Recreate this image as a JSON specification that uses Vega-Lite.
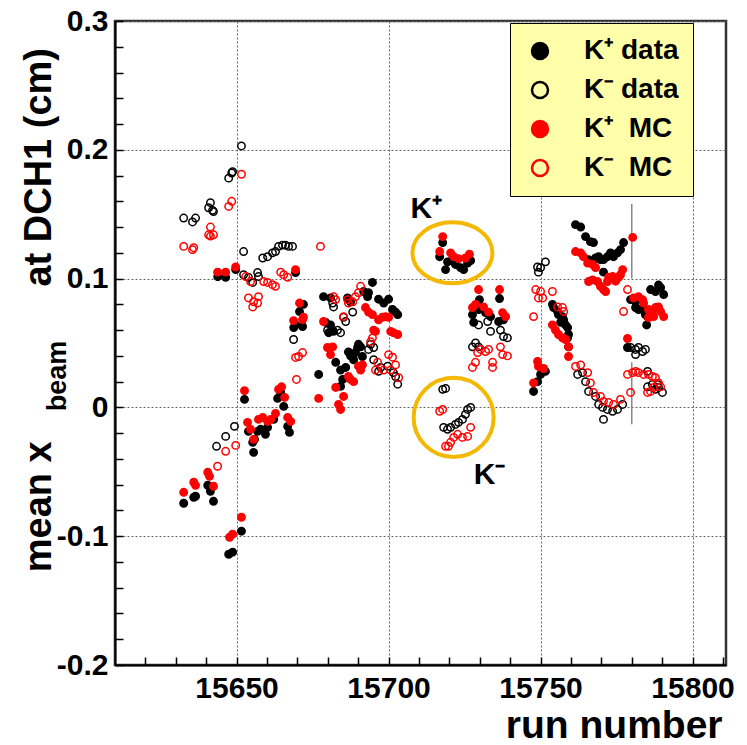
{
"$schema": "https://vega.github.io/schema/vega-lite/v6.json",
"width": 611, "height": 644,
"autosize": {"type": "none"},
"padding": {"left": 115, "top": 21, "right": 21, "bottom": 80},
"background": "white",
"config": {"view": {"stroke": "#333", "strokeWidth": 2.5}, "font": "Liberation Sans"},
"encoding": {
  "x": {"field": "r", "type": "quantitative", "scale": {"domain": [15610, 15811], "nice": false, "zero": false},
    "axis": {"values": [15620,15630,15640,15650,15660,15670,15680,15690,15700,15710,15720,15730,15740,15750,15760,15770,15780,15790,15800,15810],
      "format": "d", "labelExpr": "datum.value % 50 === 0 ? datum.label : ''",
      "labelFontSize": 30, "labelFontWeight": "bold", "labelColor": "black", "labelPadding": 16, "labelOverlap": false, "labelFlush": false,
      "tickSize": -8, "tickColor": "black", "tickWidth": 1.5, "domainColor": "black", "domainWidth": 2,
      "grid": true, "gridColor": "#666", "gridDash": [2, 2], "gridWidth": 1,
      "gridOpacity": {"condition": {"test": "datum.value % 50 === 0", "value": 1}, "value": 0},
      "title": "run number", "titleFontSize": 39, "titleFontWeight": "bold", "titleColor": "black",
      "titleAlign": "right", "titleAnchor": "end", "titleX": 607, "titleY": 72, "titleBaseline": "alphabetic"}},
  "y": {"field": "v", "type": "quantitative", "scale": {"domain": [-0.2, 0.3], "nice": false, "zero": false},
    "axis": {"values": [-0.2,-0.18,-0.16,-0.14,-0.12,-0.1,-0.08,-0.06,-0.04,-0.02,0,0.02,0.04,0.06,0.08,0.1,0.12,0.14,0.16,0.18,0.2,0.22,0.24,0.26,0.28,0.3],
      "labelExpr": "abs(datum.value*10 - round(datum.value*10)) < 0.001 ? (abs(datum.value) < 0.001 ? '0' : (datum.value < 0 ? '-' : '') + format(abs(datum.value), '.1f')) : ''",
      "labelFontSize": 30, "labelFontWeight": "bold", "labelColor": "black", "labelPadding": 15, "labelOverlap": false, "labelFlush": false,
      "tickSize": -8, "tickColor": "black", "tickWidth": 1.5, "domainColor": "black", "domainWidth": 2,
      "grid": true, "gridColor": "#666", "gridDash": [2, 2], "gridWidth": 1,
      "gridOpacity": {"condition": {"test": "abs(datum.value*10 - round(datum.value*10)) < 0.001", "value": 1}, "value": 0},
      "title": null}}
},
"layer": [
  {"data": {"values": [{"r": 15780, "v": 0.158, "v2": 0.100}, {"r": 15780, "v": 0.035, "v2": -0.013}]},
   "mark": {"type": "rule", "color": "#888", "strokeWidth": 1.5},
   "encoding": {"y2": {"field": "v2"}}},
  {"data": {"values": [
{"r":15643.8,"v":0.1015,"s":"A"},{"r":15646.4,"v":0.101,"s":"A"},{"r":15649.7,"v":0.107,"s":"A"},{"r":15669.4,"v":0.1047,"s":"A"},
{"r":15670.7,"v":0.0744,"s":"A"},{"r":15669.4,"v":0.064,"s":"A"},{"r":15671.7,"v":0.0628,"s":"A"},{"r":15668.8,"v":0.062,"s":"A"},
{"r":15677,"v":0.0256,"s":"A"},{"r":15652.6,"v":0.0062,"s":"A"},{"r":15663.5,"v":0.007,"s":"A"},{"r":15664.5,"v":0.0116,"s":"A"},
{"r":15665.5,"v":0.0008,"s":"A"},{"r":15666.8,"v":-0.0147,"s":"A"},{"r":15667.4,"v":-0.0194,"s":"A"},{"r":15662.2,"v":-0.0093,"s":"A"},
{"r":15660.2,"v":-0.0155,"s":"A"},{"r":15657.9,"v":-0.017,"s":"A"},{"r":15656.9,"v":-0.0186,"s":"A"},{"r":15653.9,"v":-0.0186,"s":"A"},
{"r":15655.9,"v":-0.0248,"s":"A"},{"r":15655.3,"v":-0.0271,"s":"A"},{"r":15659.5,"v":-0.0209,"s":"A"},{"r":15655.6,"v":-0.0349,"s":"A"},
{"r":15640.5,"v":-0.0605,"s":"A"},{"r":15641.4,"v":-0.0651,"s":"A"},{"r":15642.4,"v":-0.0729,"s":"A"},{"r":15635.9,"v":-0.0698,"s":"A"},
{"r":15636.5,"v":-0.069,"s":"A"},{"r":15632.6,"v":-0.0744,"s":"A"},{"r":15651.6,"v":-0.0961,"s":"A"},{"r":15647.4,"v":-0.114,"s":"A"},
{"r":15648.7,"v":-0.1124,"s":"A"},
{"r":15694.7,"v":0.097,"s":"A"},{"r":15678.6,"v":0.086,"s":"A"},{"r":15680.9,"v":0.085,"s":"A"},{"r":15691.8,"v":0.09,"s":"A"},
{"r":15693.1,"v":0.086,"s":"A"},{"r":15693.4,"v":0.089,"s":"A"},{"r":15686.5,"v":0.085,"s":"A"},{"r":15687.5,"v":0.082,"s":"A"},
{"r":15696.7,"v":0.084,"s":"A"},{"r":15698.4,"v":0.081,"s":"A"},{"r":15700,"v":0.084,"s":"A"},{"r":15701.3,"v":0.076,"s":"A"},
{"r":15702.3,"v":0.074,"s":"A"},{"r":15703,"v":0.072,"s":"A"},{"r":15672,"v":0.080,"s":"A"},{"r":15679.3,"v":0.066,"s":"A"},
{"r":15680.9,"v":0.064,"s":"A"},{"r":15681.9,"v":0.059,"s":"A"},{"r":15680.3,"v":0.058,"s":"A"},{"r":15690.1,"v":0.049,"s":"A"},
{"r":15690.8,"v":0.047,"s":"A"},{"r":15689.8,"v":0.0465,"s":"A"},{"r":15686.8,"v":0.043,"s":"A"},{"r":15687.5,"v":0.04,"s":"A"},
{"r":15688.5,"v":0.037,"s":"A"},{"r":15682.6,"v":0.035,"s":"A"},{"r":15684.2,"v":0.029,"s":"A"},{"r":15685.9,"v":0.031,"s":"A"},
{"r":15684.9,"v":0.0217,"s":"A"},{"r":15684.2,"v":0.0163,"s":"A"},{"r":15689.1,"v":0.0426,"s":"A"},{"r":15691.4,"v":0.0395,"s":"A"},
{"r":15717.8,"v":0.128,"s":"A"},{"r":15716.8,"v":0.117,"s":"A"},{"r":15719.4,"v":0.113,"s":"A"},{"r":15721,"v":0.1147,"s":"A"},
{"r":15718.75,"v":0.107,"s":"A"},{"r":15722,"v":0.111,"s":"A"},{"r":15723.7,"v":0.1085,"s":"A"},{"r":15724.7,"v":0.107,"s":"A"},
{"r":15726,"v":0.112,"s":"A"},{"r":15727,"v":0.114,"s":"A"},{"r":15729.9,"v":0.0837,"s":"A"},{"r":15736.5,"v":0.0845,"s":"A"},
{"r":15727.6,"v":0.072,"s":"A"},{"r":15729.6,"v":0.076,"s":"A"},{"r":15731.9,"v":0.0736,"s":"A"},{"r":15733.55,"v":0.0705,"s":"A"},
{"r":15728,"v":0.066,"s":"A"},{"r":15736.2,"v":0.0667,"s":"A"},{"r":15737.8,"v":0.068,"s":"A"},
{"r":15761.5,"v":0.1419,"s":"A"},{"r":15763.2,"v":0.140,"s":"A"},{"r":15764.8,"v":0.1326,"s":"A"},{"r":15766.4,"v":0.1287,"s":"A"},
{"r":15767.4,"v":0.128,"s":"A"},{"r":15765.8,"v":0.1147,"s":"A"},{"r":15767.1,"v":0.113,"s":"A"},{"r":15768.1,"v":0.116,"s":"A"},
{"r":15769.1,"v":0.117,"s":"A"},{"r":15769.7,"v":0.1147,"s":"A"},{"r":15770.7,"v":0.1147,"s":"A"},{"r":15772,"v":0.117,"s":"A"},
{"r":15773,"v":0.12,"s":"A"},{"r":15774,"v":0.117,"s":"A"},{"r":15775.3,"v":0.12,"s":"A"},{"r":15776.3,"v":0.1225,"s":"A"},
{"r":15777.3,"v":0.128,"s":"A"},{"r":15770.7,"v":0.105,"s":"A"},{"r":15786.2,"v":0.0915,"s":"A"},{"r":15787.8,"v":0.09,"s":"A"},
{"r":15788.8,"v":0.095,"s":"A"},{"r":15789.5,"v":0.093,"s":"A"},{"r":15790.5,"v":0.0876,"s":"A"},{"r":15779.6,"v":0.0837,"s":"A"},
{"r":15781.25,"v":0.082,"s":"A"},{"r":15781.25,"v":0.0775,"s":"A"},{"r":15782.2,"v":0.076,"s":"A"},{"r":15783.55,"v":0.076,"s":"A"},
{"r":15784.5,"v":0.072,"s":"A"},{"r":15785.2,"v":0.0705,"s":"A"},{"r":15784.9,"v":0.064,"s":"A"},{"r":15778.6,"v":0.0465,"s":"A"},
{"r":15753.9,"v":0.08,"s":"A"},{"r":15754.3,"v":0.0775,"s":"A"},{"r":15755.6,"v":0.0744,"s":"A"},{"r":15755.9,"v":0.072,"s":"A"},
{"r":15757.2,"v":0.0705,"s":"A"},{"r":15757.6,"v":0.068,"s":"A"},{"r":15756.6,"v":0.066,"s":"A"},{"r":15758.2,"v":0.064,"s":"A"},
{"r":15758.9,"v":0.062,"s":"A"},{"r":15759.2,"v":0.0566,"s":"A"},{"r":15751.6,"v":0.028,"s":"A"},{"r":15750,"v":0.0256,"s":"A"},
{"r":15749,"v":0.02,"s":"A"},{"r":15747.7,"v":0.0124,"s":"A"},
{"r":15651.6,"v":0.203,"s":"B"},{"r":15648.4,"v":0.182,"s":"B"},{"r":15647.4,"v":0.178,"s":"B"},{"r":15648.7,"v":0.183,"s":"B"},
{"r":15641.4,"v":0.159,"s":"B"},{"r":15642.1,"v":0.153,"s":"B"},{"r":15640.8,"v":0.155,"s":"B"},{"r":15642.4,"v":0.152,"s":"B"},
{"r":15632.6,"v":0.147,"s":"B"},{"r":15635.5,"v":0.144,"s":"B"},{"r":15636.5,"v":0.147,"s":"B"},{"r":15652.3,"v":0.121,"s":"B"},
{"r":15658.6,"v":0.116,"s":"B"},{"r":15660.2,"v":0.117,"s":"B"},{"r":15661.8,"v":0.120,"s":"B"},{"r":15662.8,"v":0.121,"s":"B"},
{"r":15663.8,"v":0.125,"s":"B"},{"r":15665.1,"v":0.126,"s":"B"},{"r":15666.1,"v":0.126,"s":"B"},{"r":15667.1,"v":0.125,"s":"B"},
{"r":15668.4,"v":0.125,"s":"B"},{"r":15652.3,"v":0.103,"s":"B"},{"r":15653.9,"v":0.101,"s":"B"},{"r":15655.3,"v":0.097,"s":"B"},
{"r":15656.9,"v":0.1047,"s":"B"},{"r":15657.2,"v":0.1016,"s":"B"},{"r":15668.75,"v":0.0527,"s":"B"},{"r":15649.3,"v":-0.0147,"s":"B"},
{"r":15646.4,"v":-0.0225,"s":"B"},{"r":15643.4,"v":-0.0302,"s":"B"},
{"r":15681.6,"v":0.081,"s":"B"},{"r":15681.9,"v":0.078,"s":"B"},{"r":15688.2,"v":0.074,"s":"B"},{"r":15679.9,"v":0.06,"s":"B"},
{"r":15683.2,"v":0.06,"s":"B"},{"r":15684.2,"v":0.058,"s":"B"},{"r":15685.2,"v":0.07,"s":"B"},{"r":15685.9,"v":0.0667,"s":"B"},
{"r":15694.1,"v":0.049,"s":"B"},{"r":15695.1,"v":0.0465,"s":"B"},{"r":15693.4,"v":0.045,"s":"B"},{"r":15695.1,"v":0.037,"s":"B"},
{"r":15697.4,"v":0.031,"s":"B"},{"r":15696.7,"v":0.028,"s":"B"},{"r":15699.7,"v":0.032,"s":"B"},{"r":15701.6,"v":0.027,"s":"B"},
{"r":15703,"v":0.018,"s":"B"},{"r":15702.3,"v":0.024,"s":"B"},
{"r":15729.6,"v":0.064,"s":"B"},{"r":15732.6,"v":0.0667,"s":"B"},{"r":15733.55,"v":0.059,"s":"B"},{"r":15736.8,"v":0.06,"s":"B"},
{"r":15739.1,"v":0.054,"s":"B"},{"r":15737.8,"v":0.055,"s":"B"},{"r":15728.6,"v":0.05,"s":"B"},{"r":15727.6,"v":0.047,"s":"B"},
{"r":15729.6,"v":0.047,"s":"B"},{"r":15717.8,"v":0.014,"s":"B"},{"r":15718.75,"v":0.0147,"s":"B"},{"r":15726,"v":-0.0016,"s":"B"},
{"r":15727,"v":0,"s":"B"},{"r":15725.3,"v":-0.0054,"s":"B"},{"r":15724.3,"v":-0.0093,"s":"B"},{"r":15723,"v":-0.0116,"s":"B"},
{"r":15722,"v":-0.0132,"s":"B"},{"r":15720.4,"v":-0.0155,"s":"B"},{"r":15719.4,"v":-0.017,"s":"B"},{"r":15718.1,"v":-0.0155,"s":"B"},
{"r":15749,"v":0.109,"s":"B"},{"r":15750,"v":0.1085,"s":"B"},{"r":15751.6,"v":0.113,"s":"B"},{"r":15749.3,"v":0.105,"s":"B"},
{"r":15758.9,"v":0.054,"s":"B"},{"r":15759.2,"v":0.047,"s":"B"},{"r":15779.6,"v":0.0465,"s":"B"},{"r":15781.25,"v":0.045,"s":"B"},
{"r":15782.2,"v":0.0465,"s":"B"},{"r":15783.55,"v":0.0434,"s":"B"},{"r":15784.5,"v":0.045,"s":"B"},{"r":15781.25,"v":0.041,"s":"B"},
{"r":15785.2,"v":0.016,"s":"B"},{"r":15786.8,"v":0.0178,"s":"B"},{"r":15787.8,"v":0.014,"s":"B"},{"r":15788.8,"v":0.0155,"s":"B"},
{"r":15790.1,"v":0.0116,"s":"B"},{"r":15788.5,"v":0.0178,"s":"B"},{"r":15785.2,"v":0.028,"s":"B"},{"r":15762.2,"v":0.0256,"s":"B"},
{"r":15763.8,"v":0.027,"s":"B"},{"r":15764.8,"v":0.02,"s":"B"},{"r":15765.8,"v":0.0124,"s":"B"},{"r":15768.1,"v":0.0085,"s":"B"},
{"r":15769.1,"v":0.0023,"s":"B"},{"r":15770.4,"v":0,"s":"B"},{"r":15772,"v":-0.0016,"s":"B"},{"r":15773.7,"v":-0.003,"s":"B"},
{"r":15775.3,"v":-0.0016,"s":"B"},{"r":15777,"v":0.0023,"s":"B"},{"r":15770.7,"v":-0.0093,"s":"B"},
{"r":15643.75,"v":0.105,"s":"C"},{"r":15646.4,"v":0.105,"s":"C"},{"r":15649.7,"v":0.109,"s":"C"},{"r":15669.4,"v":0.107,"s":"C"},
{"r":15670.7,"v":0.081,"s":"C"},{"r":15668.75,"v":0.0674,"s":"C"},{"r":15672,"v":0.070,"s":"C"},{"r":15671.7,"v":0.0682,"s":"C"},
{"r":15677,"v":0.007,"s":"C"},{"r":15652.6,"v":0.013,"s":"C"},{"r":15663.8,"v":0.014,"s":"C"},{"r":15664.8,"v":0.016,"s":"C"},
{"r":15665.8,"v":0.0078,"s":"C"},{"r":15666.8,"v":-0.0078,"s":"C"},{"r":15667.8,"v":-0.0109,"s":"C"},{"r":15662.8,"v":-0.0047,"s":"C"},
{"r":15661.2,"v":-0.0093,"s":"C"},{"r":15660.2,"v":-0.0109,"s":"C"},{"r":15658.6,"v":-0.0078,"s":"C"},{"r":15657.2,"v":-0.0093,"s":"C"},
{"r":15653.6,"v":-0.0116,"s":"C"},{"r":15654.6,"v":-0.017,"s":"C"},{"r":15655.6,"v":-0.0248,"s":"C"},{"r":15640.5,"v":-0.0504,"s":"C"},
{"r":15641.1,"v":-0.0535,"s":"C"},{"r":15642.4,"v":-0.0612,"s":"C"},{"r":15635.9,"v":-0.0581,"s":"C"},{"r":15636.5,"v":-0.0605,"s":"C"},
{"r":15632.6,"v":-0.0659,"s":"C"},{"r":15651.6,"v":-0.0853,"s":"C"},{"r":15647.7,"v":-0.1008,"s":"C"},{"r":15648.7,"v":-0.0984,"s":"C"},
{"r":15692.4,"v":0.0775,"s":"C"},{"r":15693.4,"v":0.074,"s":"C"},{"r":15694.7,"v":0.072,"s":"C"},{"r":15696.7,"v":0.068,"s":"C"},
{"r":15698,"v":0.07,"s":"C"},{"r":15699,"v":0.0705,"s":"C"},{"r":15700,"v":0.07,"s":"C"},{"r":15695.7,"v":0.059,"s":"C"},
{"r":15695.1,"v":0.060,"s":"C"},{"r":15700.7,"v":0.059,"s":"C"},{"r":15701.6,"v":0.058,"s":"C"},{"r":15703,"v":0.0566,"s":"C"},
{"r":15678.6,"v":0.0667,"s":"C"},{"r":15679.9,"v":0.0465,"s":"C"},{"r":15681.6,"v":0.047,"s":"C"},{"r":15680.9,"v":0.041,"s":"C"},
{"r":15690.1,"v":0.032,"s":"C"},{"r":15690.8,"v":0.029,"s":"C"},{"r":15691.4,"v":0.033,"s":"C"},{"r":15686.8,"v":0.024,"s":"C"},
{"r":15687.5,"v":0.0217,"s":"C"},{"r":15688.5,"v":0.02,"s":"C"},{"r":15682.6,"v":0.0155,"s":"C"},{"r":15685.2,"v":0.0085,"s":"C"},
{"r":15683.55,"v":0.0023,"s":"C"},{"r":15684.2,"v":-0.0016,"s":"C"},
{"r":15717.8,"v":0.1326,"s":"C"},{"r":15716.8,"v":0.121,"s":"C"},{"r":15720.4,"v":0.12,"s":"C"},{"r":15721.4,"v":0.117,"s":"C"},
{"r":15723,"v":0.1155,"s":"C"},{"r":15725.3,"v":0.116,"s":"C"},{"r":15726.6,"v":0.119,"s":"C"},{"r":15729.6,"v":0.0915,"s":"C"},
{"r":15736.5,"v":0.0915,"s":"C"},{"r":15727.6,"v":0.0775,"s":"C"},{"r":15728.6,"v":0.08,"s":"C"},{"r":15731.25,"v":0.078,"s":"C"},
{"r":15732.9,"v":0.074,"s":"C"},{"r":15737.5,"v":0.0736,"s":"C"},{"r":15738.5,"v":0.0705,"s":"C"},
{"r":15761.5,"v":0.121,"s":"C"},{"r":15763.2,"v":0.12,"s":"C"},{"r":15764.1,"v":0.117,"s":"C"},{"r":15765.5,"v":0.112,"s":"C"},
{"r":15767.1,"v":0.111,"s":"C"},{"r":15768.1,"v":0.1085,"s":"C"},{"r":15780.3,"v":0.132,"s":"C"},{"r":15777,"v":0.107,"s":"C"},
{"r":15776.3,"v":0.103,"s":"C"},{"r":15775.7,"v":0.101,"s":"C"},{"r":15774.7,"v":0.098,"s":"C"},{"r":15773.7,"v":0.1016,"s":"C"},
{"r":15772.4,"v":0.101,"s":"C"},{"r":15772,"v":0.0977,"s":"C"},{"r":15765.8,"v":0.0977,"s":"C"},{"r":15767.1,"v":0.099,"s":"C"},
{"r":15768.75,"v":0.0977,"s":"C"},{"r":15769.7,"v":0.094,"s":"C"},{"r":15770.7,"v":0.0915,"s":"C"},{"r":15771.4,"v":0.09,"s":"C"},
{"r":15780.6,"v":0.085,"s":"C"},{"r":15782.2,"v":0.086,"s":"C"},{"r":15783.55,"v":0.0837,"s":"C"},{"r":15783.9,"v":0.081,"s":"C"},
{"r":15785.5,"v":0.076,"s":"C"},{"r":15786.8,"v":0.0744,"s":"C"},{"r":15787.8,"v":0.0775,"s":"C"},{"r":15788.8,"v":0.078,"s":"C"},
{"r":15789.5,"v":0.0744,"s":"C"},{"r":15790.5,"v":0.0705,"s":"C"},{"r":15787.2,"v":0.0705,"s":"C"},{"r":15785.5,"v":0.0698,"s":"C"},
{"r":15778.6,"v":0.0535,"s":"C"},{"r":15753.9,"v":0.064,"s":"C"},{"r":15754.9,"v":0.06,"s":"C"},{"r":15755.9,"v":0.0566,"s":"C"},
{"r":15757.2,"v":0.054,"s":"C"},{"r":15758.2,"v":0.0527,"s":"C"},{"r":15759.2,"v":0.047,"s":"C"},{"r":15759.2,"v":0.0395,"s":"C"},
{"r":15749,"v":0.0357,"s":"C"},{"r":15749.3,"v":0.0318,"s":"C"},{"r":15751,"v":0.0302,"s":"C"},{"r":15747.7,"v":0.019,"s":"C"},
{"r":15651.6,"v":0.181,"s":"D"},{"r":15648.4,"v":0.160,"s":"D"},{"r":15647.4,"v":0.156,"s":"D"},{"r":15641.4,"v":0.140,"s":"D"},
{"r":15640.8,"v":0.134,"s":"D"},{"r":15642.4,"v":0.134,"s":"D"},{"r":15641.4,"v":0.133,"s":"D"},{"r":15632.6,"v":0.125,"s":"D"},
{"r":15635.5,"v":0.1225,"s":"D"},{"r":15635.9,"v":0.124,"s":"D"},{"r":15677.6,"v":0.125,"s":"D"},{"r":15653,"v":0.1016,"s":"D"},
{"r":15654.6,"v":0.0977,"s":"D"},{"r":15658.9,"v":0.0977,"s":"D"},{"r":15660.2,"v":0.097,"s":"D"},{"r":15661.8,"v":0.0953,"s":"D"},
{"r":15662.8,"v":0.094,"s":"D"},{"r":15664.5,"v":0.105,"s":"D"},{"r":15665.5,"v":0.103,"s":"D"},{"r":15666.8,"v":0.101,"s":"D"},
{"r":15653.9,"v":0.085,"s":"D"},{"r":15655.6,"v":0.082,"s":"D"},{"r":15655.3,"v":0.078,"s":"D"},{"r":15656.9,"v":0.081,"s":"D"},
{"r":15657.2,"v":0.086,"s":"D"},{"r":15669.4,"v":0.0388,"s":"D"},{"r":15670.4,"v":0.0395,"s":"D"},{"r":15671.7,"v":0.0426,"s":"D"},
{"r":15669.7,"v":0.0217,"s":"D"},{"r":15649.7,"v":-0.0295,"s":"D"},{"r":15646.4,"v":-0.0341,"s":"D"},{"r":15643.75,"v":-0.0457,"s":"D"},
{"r":15681.9,"v":0.086,"s":"D"},{"r":15682.6,"v":0.0837,"s":"D"},{"r":15690.8,"v":0.094,"s":"D"},{"r":15690.1,"v":0.089,"s":"D"},
{"r":15689.1,"v":0.086,"s":"D"},{"r":15686.5,"v":0.0837,"s":"D"},{"r":15686.8,"v":0.081,"s":"D"},{"r":15688.2,"v":0.082,"s":"D"},
{"r":15685.2,"v":0.0705,"s":"D"},{"r":15694.7,"v":0.054,"s":"D"},{"r":15694.1,"v":0.051,"s":"D"},{"r":15696.4,"v":0.035,"s":"D"},
{"r":15695.7,"v":0.029,"s":"D"},{"r":15698.4,"v":0.029,"s":"D"},{"r":15700.7,"v":0.029,"s":"D"},{"r":15700,"v":0.041,"s":"D"},
{"r":15701.3,"v":0.039,"s":"D"},{"r":15702.3,"v":0.033,"s":"D"},{"r":15703.3,"v":0.023,"s":"D"},
{"r":15730.3,"v":0.045,"s":"D"},{"r":15731.9,"v":0.0434,"s":"D"},{"r":15729.3,"v":0.0426,"s":"D"},{"r":15732.9,"v":0.045,"s":"D"},
{"r":15736.8,"v":0.047,"s":"D"},{"r":15739.1,"v":0.04,"s":"D"},{"r":15737.5,"v":0.041,"s":"D"},{"r":15728.6,"v":0.035,"s":"D"},
{"r":15727.6,"v":0.031,"s":"D"},{"r":15734.2,"v":0.035,"s":"D"},{"r":15734.2,"v":0.031,"s":"D"},{"r":15716.8,"v":-0.003,"s":"D"},
{"r":15717.8,"v":-0.0016,"s":"D"},{"r":15727,"v":-0.0155,"s":"D"},{"r":15726,"v":-0.0225,"s":"D"},{"r":15724.3,"v":-0.0233,"s":"D"},
{"r":15722.7,"v":-0.0209,"s":"D"},{"r":15721.4,"v":-0.0233,"s":"D"},{"r":15720.4,"v":-0.0271,"s":"D"},{"r":15718.75,"v":-0.0302,"s":"D"},
{"r":15719.7,"v":-0.0302,"s":"D"},
{"r":15748.4,"v":0.0915,"s":"D"},{"r":15750,"v":0.09,"s":"D"},{"r":15753.9,"v":0.09,"s":"D"},{"r":15749.3,"v":0.085,"s":"D"},
{"r":15750.7,"v":0.085,"s":"D"},{"r":15747.7,"v":0.0705,"s":"D"},{"r":15755.6,"v":0.078,"s":"D"},{"r":15757.2,"v":0.0775,"s":"D"},
{"r":15757.6,"v":0.0744,"s":"D"},{"r":15778.6,"v":0.0915,"s":"D"},{"r":15777.3,"v":0.0744,"s":"D"},{"r":15778.6,"v":0.0256,"s":"D"},
{"r":15780.3,"v":0.027,"s":"D"},{"r":15781.25,"v":0.028,"s":"D"},{"r":15782.2,"v":0.027,"s":"D"},{"r":15783.9,"v":0.0256,"s":"D"},
{"r":15785.5,"v":0.0256,"s":"D"},{"r":15786.8,"v":0.024,"s":"D"},{"r":15787.8,"v":0.023,"s":"D"},{"r":15788.8,"v":0.019,"s":"D"},
{"r":15789.5,"v":0.016,"s":"D"},{"r":15787.2,"v":0.0155,"s":"D"},{"r":15786.2,"v":0.0124,"s":"D"},{"r":15785.2,"v":0.0116,"s":"D"},
{"r":15761.5,"v":0.0318,"s":"D"},{"r":15763.2,"v":0.033,"s":"D"},{"r":15765.5,"v":0.027,"s":"D"},{"r":15766.4,"v":0.019,"s":"D"},
{"r":15767.4,"v":0.0116,"s":"D"},{"r":15769.7,"v":0.0085,"s":"D"},{"r":15770.7,"v":0.0047,"s":"D"},{"r":15772.4,"v":0.0039,"s":"D"},
{"r":15774,"v":0.0023,"s":"D"},{"r":15776.3,"v":0.0062,"s":"D"},{"r":15779.6,"v":0.0116,"s":"D"}
  ]},
   "mark": {"type": "point", "shape": "circle", "size": 55, "strokeWidth": 1.5, "opacity": 1},
   "encoding": {
     "fill": {"field": "s", "type": "nominal", "scale": {"domain": ["A", "B", "C", "D"], "range": ["black", "transparent", "red", "transparent"]},
       "legend": {"title": null, "orient": "none", "legendX": 395, "legendY": 2, "fillColor": "#ffffaa", "strokeColor": "black",
         "padding": 14, "labelFontSize": 28, "labelFont": "Liberation Sans", "labelFontWeight": "bold", "labelColor": "black",
         "symbolSize": 256, "symbolStrokeWidth": 2.5, "symbolType": "circle", "rowPadding": 11, "labelOffset": 30, "symbolOffset": 2,
         "labelExpr": "datum.label == 'A' ? 'K⁺ data' : datum.label == 'B' ? 'K⁻ data' : datum.label == 'C' ? 'K⁺\u00a0 MC' : 'K⁻\u00a0 MC'"}},
     "stroke": {"field": "s", "type": "nominal", "scale": {"domain": ["A", "B", "C", "D"], "range": ["black", "black", "red", "red"]},
       "legend": {"title": null, "orient": "none", "legendX": 395, "legendY": 2, "fillColor": "#ffffaa", "strokeColor": "black",
         "padding": 14, "labelFontSize": 28, "labelFont": "Liberation Sans", "labelFontWeight": "bold", "labelColor": "black",
         "symbolSize": 256, "symbolStrokeWidth": 2.5, "symbolType": "circle", "rowPadding": 11, "labelOffset": 30, "symbolOffset": 2,
         "labelExpr": "datum.label == 'A' ? 'K⁺ data' : datum.label == 'B' ? 'K⁻ data' : datum.label == 'C' ? 'K⁺\u00a0 MC' : 'K⁻\u00a0 MC'"}}
   }},
  {"data": {"values": [{"r": 15721, "v": 0.120, "e": "1"}, {"r": 15721.4, "v": -0.0078, "e": "2"}]},
   "mark": {"type": "point", "filled": false, "size": 6400, "strokeWidth": 4, "color": "#f5b800", "opacity": 1},
   "encoding": {"shape": {"field": "e", "type": "nominal", "legend": null,
     "scale": {"domain": ["1", "2"], "range": ["M -1 0 A 1 0.7625 0 1 1 1 0 A 1 0.7625 0 1 1 -1 0 Z", "M -1 0 A 1 0.99 0 1 1 1 0 A 1 0.99 0 1 1 -1 0 Z"]}}}},
  {"data": {"values": [{"r": 15707.2, "v": 0.1473, "t": "K⁺"}, {"r": 15728, "v": -0.0597, "t": "K⁻"}]},
   "mark": {"type": "text", "fontSize": 30, "fontWeight": "bold", "align": "left", "baseline": "alphabetic", "color": "black"},
   "encoding": {"text": {"field": "t"}}},
  {"data": {"values": [{"r": 15589.1, "v": -0.128, "t": "mean x"}, {"r": 15589.1, "v": 0.0938, "t": "at DCH1 (cm)"}]},
   "mark": {"type": "text", "fontSize": 38, "fontWeight": "bold", "align": "left", "baseline": "alphabetic", "angle": 270, "color": "black"},
   "encoding": {"text": {"field": "t"}}},
  {"data": {"values": [{"r": 15593.75, "v": -0.003, "t": "beam"}]},
   "mark": {"type": "text", "fontSize": 27, "fontWeight": "bold", "align": "left", "baseline": "alphabetic", "angle": 270, "color": "black"},
   "encoding": {"text": {"field": "t"}}}
]
}
